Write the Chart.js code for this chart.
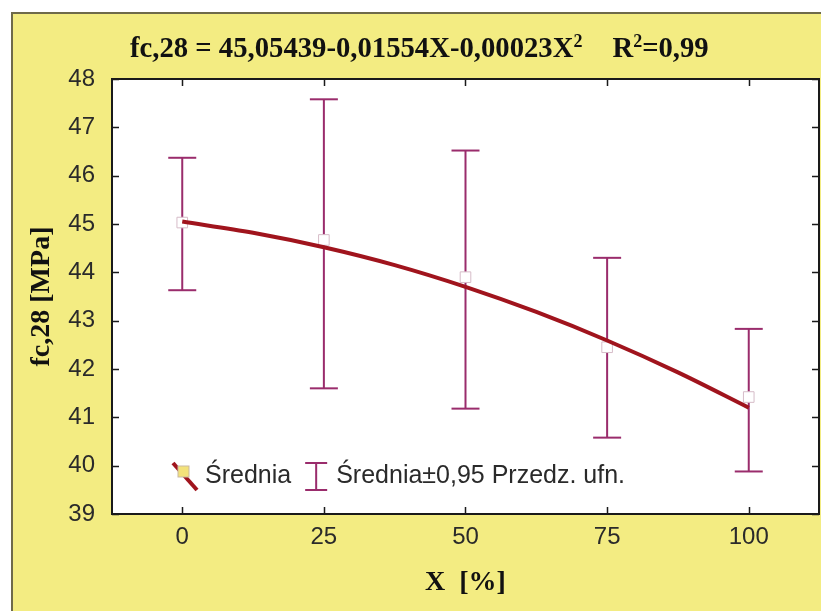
<!DOCTYPE html>
<html>
<head>
<meta charset="utf-8">
<script src="https://cdn.jsdelivr.net/npm/chart.js@4.4.1/dist/chart.umd.min.js"></script>
<style>
  html, body { margin: 0; padding: 0; background: #fff; }
  #wrap { width: 821px; height: 611px; }
</style>
</head>
<body>
<div id="wrap"><canvas id="fcChart"></canvas></div>
<script>
// X [%] levels, means and 0.95 confidence bounds of fc,28
const xValues = [0, 25, 50, 75, 100];
const meanValues = [45.03, 44.67, 43.90, 42.45, 41.42];
const upperValues = [46.37, 47.58, 46.52, 44.30, 42.83];
const lowerValues = [43.63, 41.60, 41.18, 40.58, 39.88];

// fitted curve
const fitX = [0, 12.5, 25, 37.5, 50, 62.5, 75, 87.5, 100];
const fitValues = [45.05, 44.82, 44.52, 44.15, 43.70, 43.18, 42.59, 41.93, 41.20];

const xTicks = [0, 25, 50, 75, 100];
const yTicks = [39, 40, 41, 42, 43, 44, 45, 46, 47, 48];

const curveColor = "#a0141d";
const barColor = "#9a2c6c";
const serif = "'Liberation Serif', 'Times New Roman', serif";
const sans = "'Liberation Sans', Arial, sans-serif";

// error bars: low -> high pairs split by null gaps
const errorData = [];
xValues.forEach((x, i) => {
  errorData.push({ x: x, y: lowerValues[i] }, { x: x, y: upperValues[i] }, { x: x, y: null });
});

const titleParts = [
  { t: "fc,28 = 45,05439-0,01554X-0,00023X" },
  { t: "2", sup: true },
  { gap: 30 },
  { t: "R" },
  { t: "2", sup: true },
  { t: "=0,99" }
];

const frame = {
  id: "frame",
  beforeDraw(chart) {
    const { ctx, chartArea: a, width, height } = chart;
    ctx.save();
    ctx.fillStyle = "#fff";
    ctx.fillRect(0, 0, width, height);
    ctx.fillStyle = "#f3ec82";
    ctx.fillRect(12, 13, width - 12, height - 13);
    ctx.strokeStyle = "#6e6a4a";
    ctx.lineWidth = 2;
    ctx.strokeRect(12, 13, width + 10, height + 10);
    ctx.fillStyle = "#fff";
    ctx.fillRect(a.left, a.top, a.right - a.left, a.bottom - a.top);
    ctx.restore();
  },
  afterDraw(chart) {
    const { ctx, chartArea: a, scales: { x, y } } = chart;
    ctx.save();
    ctx.strokeStyle = "#1a1a1a";
    ctx.lineWidth = 1.5;
    ctx.beginPath();
    x.ticks.forEach(t => {
      const px = Math.round(x.getPixelForValue(t.value)) + 0.5;
      ctx.moveTo(px, a.bottom); ctx.lineTo(px, a.bottom - 7);
      ctx.moveTo(px, a.top); ctx.lineTo(px, a.top + 7);
    });
    y.ticks.forEach(t => {
      const py = Math.round(y.getPixelForValue(t.value)) + 0.5;
      ctx.moveTo(a.left, py); ctx.lineTo(a.left + 7, py);
      ctx.moveTo(a.right, py); ctx.lineTo(a.right - 7, py);
    });
    ctx.stroke();
    ctx.lineWidth = 2;
    ctx.strokeRect(a.left, a.top, a.right - a.left, a.bottom - a.top);
    ctx.restore();
  }
};

// equation with superscripts above the plot
const titleLine = {
  id: "titleLine",
  afterDraw(chart) {
    const ctx = chart.ctx;
    ctx.save();
    ctx.fillStyle = "#111";
    ctx.textBaseline = "alphabetic";
    let x = 130;
    const y = 57;
    titleParts.forEach(p => {
      if (p.gap) { x += p.gap; return; }
      ctx.font = p.sup ? "bold 18px " + serif : "bold 28.7px " + serif;
      ctx.fillText(p.t, x, p.sup ? y - 10 : y);
      x += ctx.measureText(p.t).width;
    });
    ctx.restore();
  }
};

// legend inside the plot, bottom left
const innerLegend = {
  id: "innerLegend",
  afterDraw(chart) {
    const { ctx, chartArea: a } = chart;
    const cy = a.bottom - 38;
    let x = a.left + 61;
    ctx.save();
    ctx.font = "25px " + sans;
    ctx.fillStyle = "#2a2a2a";
    ctx.textBaseline = "middle";

    // mean + curve symbol
    ctx.strokeStyle = curveColor;
    ctx.lineWidth = 4;
    ctx.beginPath();
    ctx.moveTo(x, cy - 13); ctx.lineTo(x + 24, cy + 14);
    ctx.stroke();
    ctx.fillStyle = "#f3e27a";
    ctx.strokeStyle = "#c9b9a0";
    ctx.lineWidth = 1;
    ctx.fillRect(x + 5, cy - 10, 11, 11);
    ctx.strokeRect(x + 5, cy - 10, 11, 11);
    ctx.fillStyle = "#2a2a2a";
    const l1 = chart.data.datasets[0].label;
    ctx.fillText(l1, x + 32, cy);
    x += 32 + ctx.measureText(l1).width + 14;

    // confidence interval symbol
    ctx.strokeStyle = barColor;
    ctx.lineWidth = 2;
    ctx.beginPath();
    ctx.moveTo(x + 11, cy - 13); ctx.lineTo(x + 11, cy + 14);
    ctx.moveTo(x, cy - 13); ctx.lineTo(x + 22, cy - 13);
    ctx.moveTo(x, cy + 14); ctx.lineTo(x + 22, cy + 14);
    ctx.stroke();
    ctx.fillText(chart.data.datasets[2].label, x + 31, cy);
    ctx.restore();
  }
};

new Chart(document.getElementById("fcChart"), {
  type: "line",
  data: {
    datasets: [
      {
        label: "Średnia",
        data: fitX.map((x, i) => ({ x: x, y: fitValues[i] })),
        borderColor: curveColor,
        borderWidth: 4,
        pointRadius: 0,
        cubicInterpolationMode: "monotone"
      },
      {
        label: "means",
        data: xValues.map((x, i) => ({ x: x, y: meanValues[i] })),
        showLine: false,
        pointStyle: "rect",
        pointRadius: 7.5,
        pointBackgroundColor: "#fff",
        pointBorderColor: "#d6bcc8",
        pointBorderWidth: 1
      },
      {
        label: "Średnia±0,95 Przedz. ufn.",
        data: errorData,
        borderColor: barColor,
        borderWidth: 2,
        spanGaps: false,
        pointStyle: "line",
        pointRadius: 14,
        pointBorderColor: barColor,
        pointBorderWidth: 2
      }
    ]
  },
  options: {
    responsive: true,
    maintainAspectRatio: false,
    animation: false,
    events: [],
    layout: { autoPadding: false, padding: { top: 79, right: 2, left: 0, bottom: 0 } },
    plugins: { legend: { display: false }, tooltip: { enabled: false } },
    scales: {
      x: {
        type: "linear",
        min: -12.4,
        max: 112.4,
        afterBuildTicks: s => { s.ticks = xTicks.map(v => ({ value: v })); },
        afterFit: s => { s.height = 97; s.paddingLeft = 0; s.paddingRight = 0; },
        grid: { display: false, drawTicks: false },
        border: { display: false },
        ticks: { padding: 9, color: "#2a2a2a", font: { family: sans, size: 24 }, maxRotation: 0, autoSkip: false },
        title: { display: true, text: "X  [%]", color: "#111", font: { family: serif, size: 28, weight: "bold" }, padding: { top: 0, bottom: 11 } }
      },
      y: {
        min: 39,
        max: 48,
        afterBuildTicks: s => { s.ticks = yTicks.map(v => ({ value: v })); },
        afterFit: s => { s.width = 112; s.paddingTop = 0; s.paddingBottom = 0; },
        grid: { display: false, drawTicks: false },
        border: { display: false },
        ticks: { padding: 17, color: "#2a2a2a", font: { family: sans, size: 24 } },
        title: { display: true, text: "fc,28 [MPa]", color: "#111", font: { family: serif, size: 28, weight: "bold" }, padding: { top: 25, bottom: 0 } }
      }
    }
  },
  plugins: [frame, titleLine, innerLegend]
});
</script>
</body>
</html>
